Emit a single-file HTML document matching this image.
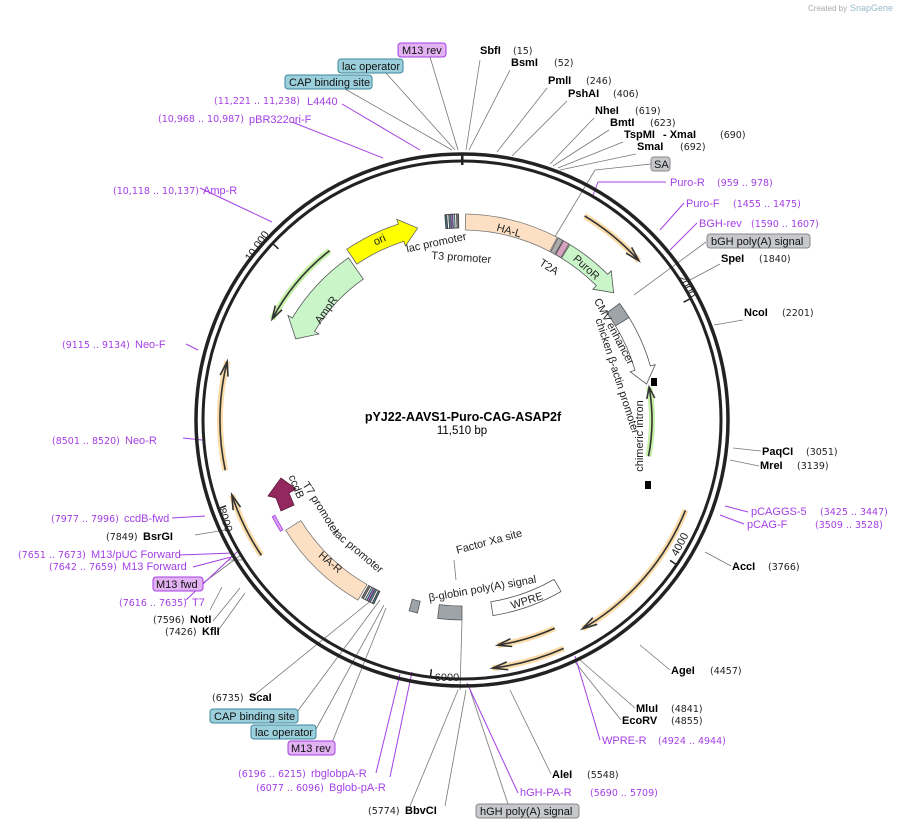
<!DOCTYPE html>
<html><head><meta charset="utf-8"><style>
html,body{margin:0;padding:0;background:#fff;}
svg{display:block;font-family:"Liberation Sans","DejaVu Sans",sans-serif;}
.b{font-weight:bold;font-size:11px;fill:#000}
.n{font-size:9.5px;fill:#222;font-family:"DejaVu Sans",sans-serif}
.p{font-size:11px;fill:#a43fe6}
.pn{font-size:9.5px;fill:#a43fe6;font-family:"DejaVu Sans",sans-serif}
.f{font-size:11px;fill:#222}
.bx{font-size:11px;fill:#111}
</style></head><body>
<svg id="s" width="906" height="828" viewBox="0 0 906 828" xmlns="http://www.w3.org/2000/svg">
<text x="808" y="11" style="font-size:8px;fill:#aaa">Created by</text><text x="850" y="11" style="font-size:9px;fill:#9bc">SnapGene</text>
<g id="lines" stroke="#777" stroke-width="0.8" fill="none"></g>
<g id="plines" stroke="#a43fe6" stroke-width="1" fill="none"></g>
<circle cx="462" cy="420" r="266" fill="none" stroke="#222" stroke-width="3.5"/>
<circle cx="462" cy="420" r="259" fill="none" stroke="#222" stroke-width="3"/>
<g id="feat"></g>
<rect x="398" y="43" width="48" height="14" rx="3" fill="#e2b2f3" stroke="#a43fe6"/><text x="402" y="54" class="bx">M13 rev</text>
<rect x="338" y="59" width="65" height="14" rx="3" fill="#9bcfdb" stroke="#3b8a9c"/><text x="342" y="70" class="bx">lac operator</text>
<rect x="285" y="75" width="87" height="14" rx="3" fill="#9bcfdb" stroke="#3b8a9c"/><text x="289" y="86" class="bx">CAP binding site</text>
<rect x="651" y="157" width="19" height="14" rx="3" fill="#c6c8cc" stroke="#888"/><text x="654" y="168" class="bx">SA</text>
<rect x="707" y="234" width="103" height="14" rx="3" fill="#c6c8cc" stroke="#888"/><text x="711" y="245" class="bx">bGH poly(A) signal</text>
<rect x="476" y="804" width="103" height="14" rx="3" fill="#c6c8cc" stroke="#888"/><text x="480" y="815" class="bx">hGH poly(A) signal</text>
<rect x="288" y="741" width="47" height="14" rx="3" fill="#e2b2f3" stroke="#a43fe6"/><text x="291" y="752" class="bx">M13 rev</text>
<rect x="251" y="725" width="65" height="14" rx="3" fill="#9bcfdb" stroke="#3b8a9c"/><text x="255" y="736" class="bx">lac operator</text>
<rect x="210" y="709" width="88" height="14" rx="3" fill="#9bcfdb" stroke="#3b8a9c"/><text x="214" y="720" class="bx">CAP binding site</text>
<rect x="153" y="577" width="50" height="14" rx="3" fill="#e2b2f3" stroke="#a43fe6"/><text x="156" y="588" class="bx">M13 fwd</text>
<text x="214" y="104" class="pn">(11,221 .. 11,238)</text><text x="307" y="105" class="p">L4440</text>
<text x="158" y="122" class="pn">(10,968 .. 10,987)</text><text x="249" y="123" class="p">pBR322ori-F</text>
<text x="480" y="54" class="b">SbfI</text><text x="513" y="54" class="n">(15)</text>
<text x="511" y="66" class="b">BsmI</text><text x="554" y="66" class="n">(52)</text>
<text x="548" y="84" class="b">PmlI</text><text x="586" y="84" class="n">(246)</text>
<text x="568" y="97" class="b">PshAI</text><text x="613" y="97" class="n">(406)</text>
<text x="595" y="114" class="b">NheI</text><text x="635" y="114" class="n">(619)</text>
<text x="610" y="126" class="b">BmtI</text><text x="650" y="126" class="n">(623)</text>
<text x="624" y="138" class="b">TspMI</text><text x="663" y="138" class="b">- XmaI</text><text x="720" y="138" class="n">(690)</text>
<text x="637" y="150" class="b">SmaI</text><text x="680" y="150" class="n">(692)</text>
<text x="670" y="186" class="p">Puro-R</text><text x="717" y="186" class="pn">(959 .. 978)</text>
<text x="686" y="207" class="p">Puro-F</text><text x="733" y="207" class="pn">(1455 .. 1475)</text>
<text x="699" y="227" class="p">BGH-rev</text><text x="751" y="227" class="pn">(1590 .. 1607)</text>
<text x="721" y="262" class="b">SpeI</text><text x="759" y="262" class="n">(1840)</text>
<text x="744" y="316" class="b">NcoI</text><text x="782" y="316" class="n">(2201)</text>
<text x="762" y="455" class="b">PaqCI</text><text x="806" y="455" class="n">(3051)</text>
<text x="760" y="469" class="b">MreI</text><text x="797" y="469" class="n">(3139)</text>
<text x="751" y="515" class="p">pCAGGS-5</text><text x="820" y="515" class="pn">(3425 .. 3447)</text>
<text x="747" y="528" class="p">pCAG-F</text><text x="815" y="528" class="pn">(3509 .. 3528)</text>
<text x="732" y="570" class="b">AccI</text><text x="768" y="570" class="n">(3766)</text>
<text x="671" y="674" class="b">AgeI</text><text x="710" y="674" class="n">(4457)</text>
<text x="636" y="712" class="b">MluI</text><text x="671" y="712" class="n">(4841)</text>
<text x="622" y="724" class="b">EcoRV</text><text x="671" y="724" class="n">(4855)</text>
<text x="602" y="744" class="p">WPRE-R</text><text x="658" y="744" class="pn">(4924 .. 4944)</text>
<text x="552" y="778" class="b">AleI</text><text x="587" y="778" class="n">(5548)</text>
<text x="520" y="796" class="p">hGH-PA-R</text><text x="590" y="796" class="pn">(5690 .. 5709)</text>
<text x="368" y="814" class="n">(5774)</text><text x="405" y="814" class="b">BbvCI</text>
<text x="238" y="777" class="pn">(6196 .. 6215)</text><text x="311" y="777" class="p">rbglobpA-R</text>
<text x="256" y="791" class="pn">(6077 .. 6096)</text><text x="329" y="791" class="p">Bglob-pA-R</text>
<text x="212" y="701" class="n">(6735)</text><text x="249" y="701" class="b">ScaI</text>
<text x="165" y="635" class="n">(7426)</text><text x="202" y="635" class="b">KflI</text>
<text x="153" y="623" class="n">(7596)</text><text x="190" y="623" class="b">NotI</text>
<text x="119" y="606" class="pn">(7616 .. 7635)</text><text x="192" y="606" class="p">T7</text>
<text x="49" y="570" class="pn">(7642 .. 7659)</text><text x="122" y="570" class="p">M13 Forward</text>
<text x="18" y="558" class="pn">(7651 .. 7673)</text><text x="91" y="558" class="p">M13/pUC Forward</text>
<text x="106" y="540" class="n">(7849)</text><text x="143" y="540" class="b">BsrGI</text>
<text x="51" y="522" class="pn">(7977 .. 7996)</text><text x="124" y="522" class="p">ccdB-fwd</text>
<text x="52" y="444" class="pn">(8501 .. 8520)</text><text x="125" y="444" class="p">Neo-R</text>
<text x="62" y="348" class="pn">(9115 .. 9134)</text><text x="135" y="348" class="p">Neo-F</text>
<text x="113" y="194" class="pn">(10,118 .. 10,137)</text><text x="203" y="194" class="p">Amp-R</text>
<text x="463" y="421" text-anchor="middle" style="font-weight:bold;font-size:12.5px">pYJ22-AAVS1-Puro-CAG-ASAP2f</text>
<text x="462" y="434" text-anchor="middle" style="font-size:11.5px">11,510 bp</text>
<g class="f" text-anchor="middle" style="font-size:11px">
<text transform="translate(437,246) rotate(-12)">lac promoter</text>
<text transform="translate(461,261) rotate(4)">T3 promoter</text>
<text transform="translate(508,234) rotate(16)">HA-L</text>
<text transform="translate(547,270) rotate(32)">T2A</text>
<text transform="translate(584,270) rotate(42)">PuroR</text>
<text transform="translate(381,243) rotate(-25)">ori</text>
<text transform="translate(329,312) rotate(-55)">AmpR</text>
<text transform="translate(611,333) rotate(62)">CMV enhancer</text>
<text transform="translate(614,377) rotate(72)">chicken β-actin promoter</text>
<text transform="translate(643,436) rotate(-90)">chimeric intron</text>
<text transform="translate(293,488) rotate(68)">ccdB</text>
<text transform="translate(318,510) rotate(58)">T7 promoter</text>
<text transform="translate(356,554) rotate(40)">lac promoter</text>
<text transform="translate(328,565) rotate(40)">HA-R</text>
<text transform="translate(490,545) rotate(-15)">Factor Xa site</text>
<text transform="translate(483,592) rotate(-10)">β-globin poly(A) signal</text>
<text transform="translate(528,604) rotate(-18)">WPRE</text>
<text transform="translate(684,288) rotate(62)">2000</text>
<text transform="translate(683,546) rotate(-62)">4000</text>
<text x="447" y="681">6000</text>
<text transform="translate(222,521) rotate(72)">8000</text>
<text transform="translate(260,248) rotate(-55)">10,000</text>
</g>
</svg>
<script>
var cx=462,cy=420,NS="http://www.w3.org/2000/svg";
function P(r,a){a=a*Math.PI/180;return [cx+r*Math.sin(a),cy-r*Math.cos(a)];}
function el(g,t,at){var e=document.createElementNS(NS,t);for(var k in at)e.setAttribute(k,at[k]);document.getElementById(g).appendChild(e);return e;}
function band(r1,r2,a1,a2,fill,stroke,dir){
 var rm=(r1+r2)/2,ah=5;var s=a1,e=a2;if(dir==1)e=a2-ah;if(dir==-1)s=a1+ah;
 var d="",p;p=P(r2,s);d+="M"+p+" ";p=P(r2,e);d+="A"+r2+","+r2+" 0 "+((e-s)>180?1:0)+" 1 "+p+" ";
 if(dir==1){p=P(r2+5,e);d+="L"+p+" ";p=P(rm,a2);d+="L"+p+" ";p=P(r1-5,e);d+="L"+p+" ";}
 p=P(r1,e);d+="L"+p+" ";p=P(r1,s);d+="A"+r1+","+r1+" 0 "+((e-s)>180?1:0)+" 0 "+p+" ";
 if(dir==-1){p=P(r1-5,s);d+="L"+p+" ";p=P(rm,a1);d+="L"+p+" ";p=P(r2+5,s);d+="L"+p+" ";}
 d+="Z";el("feat","path",{d:d,fill:fill,stroke:stroke||"#555","stroke-width":0.8});}
function prim(r,a1,a2,dir,glow){
 var p1=P(r,a1),p2=P(r,a2);var d="M"+p1+" A"+r+","+r+" 0 0 1 "+p2;
 el("feat","path",{d:d,fill:"none",stroke:glow,"stroke-width":6,"stroke-opacity":0.6});
 el("feat","path",{d:d,fill:"none",stroke:"#333","stroke-width":1.6});
 var t=dir==1?a2:a1,b=dir==1?a2-3.5:a1+3.5;var q=P(r,t),l=P(r+4,b),m=P(r-4,b);
 el("feat","path",{d:"M"+l+" L"+q+" L"+m,fill:"none",stroke:"#333","stroke-width":1.6});}
function cluster(r1,r2,a0){var cols=["#3c6e7e","#fff","#5a8c9c","#b36fe0","#9bcfdb","#fff","#777"];
 for(var i=0;i<cols.length;i++){band(r1,r2,a0+i*0.55,a0+(i+1)*0.55,cols[i],"#444",0);}}
band(190,206,1,27.5,"#fde0c4","#777",0);
band(190,206,27.8,29.3,"#aaa","#555",0);
band(190,206,29.5,31.3,"#d9a1c0","#555",0);
band(190,206,31.6,50,"#c9f5c9","#555",1);
band(180,196,53.5,58.5,"#9fa4a9","#555",0);
band(180,196,58.5,79,"#fff","#555",1);
band(188,206,326,347,"#ffff00","#666",1);
band(172,198,296,325,"#c9f5c9","#555",-1);
band(190,208,210,238,"#fde0c4","#777",0);
band(186,200,180,187,"#9fa4a9","#555",0);
band(186,198,193,195.5,"#9fa4a9","#555",0);
band(184,198,150,171,"#fff","#555",0);
cluster(192,206,355.2);
cluster(190,204,205.6);
band(210,213,238.5,243,"#d9a1f0","#a43fe6",0);
prim(238,31,48,1,"#f8c46e");
prim(241,112,150,1,"#f8c46e");
prim(228,156,171,1,"#f8c46e");
prim(250,156,173,1,"#f8c46e");
prim(242,258,284,1,"#f8c46e");
prim(242,236,252,1,"#f8c46e");
prim(215,298,322,-1,"#9ee86e");
prim(190,80,101,-1,"#9ee86e");
el("feat","path",{d:"M281,478 L268,496 L276,498 L281,511 L294,505 L289,493 L296,489 Z",fill:"#92285e",stroke:"#5a1a3c","stroke-width":0.8});
el("feat","rect",{x:651,y:378,width:6,height:8,fill:"#000"});el("feat","rect",{x:645,y:481,width:6,height:8,fill:"#000"});
el("feat","rect",{x:461,y:155,width:2.5,height:10,fill:"#222"});
[[62,"2000"],[124,"4000"],[187,"6000"],[250,"8000"],[313,"10000"]].forEach(function(t){var a=P(259,t[0]),b=P(251,t[0]);el("feat","line",{x1:a[0],y1:a[1],x2:b[0],y2:b[1],stroke:"#222","stroke-width":1.5});});
var L=[[430,57,458,150],[386,73,455,150],[345,89,452,150],[480,60,466,150],[510,70,469,150],[547,88,497,152],[567,101,512,156],[594,118,550,164],[609,130,553,166],[623,142,558,168],[636,154,560,170],[651,164,595,170],[595,170,553,240],[720,264,690,280],[706,242,634,295],[743,320,714,325],[761,451,733,448],[759,466,730,460],[731,566,705,552],[670,670,640,645],[635,708,580,660],[621,720,575,662],[551,774,510,690],[508,804,470,690],[445,806,466,690],[410,806,458,690],[252,697,378,595],[297,712,380,600],[315,731,384,605],[331,745,386,608],[217,632,245,593],[213,621,240,588],[203,583,241,555],[195,535,225,530],[454,560,456,580],[460,690,462,620],[210,610,222,587],[242,560,228,560]];
L.forEach(function(l){el("lines","line",{x1:l[0],y1:l[1],x2:l[2],y2:l[3]});});
var PL=[[342,104,420,150],[292,122,383,158],[666,182,598,182],[598,182,593,195],[684,203,660,230],[697,223,670,250],[200,188,272,222],[186,344,198,350],[183,438,202,440],[172,518,205,516],[180,555,233,553],[193,567,235,556],[186,600,238,551],[748,512,725,506],[744,524,720,515],[600,740,575,656],[518,793,467,683],[390,777,412,672],[376,773,400,674]];
PL.forEach(function(l){el("plines","line",{x1:l[0],y1:l[1],x2:l[2],y2:l[3]});});
</script>
</body></html>
